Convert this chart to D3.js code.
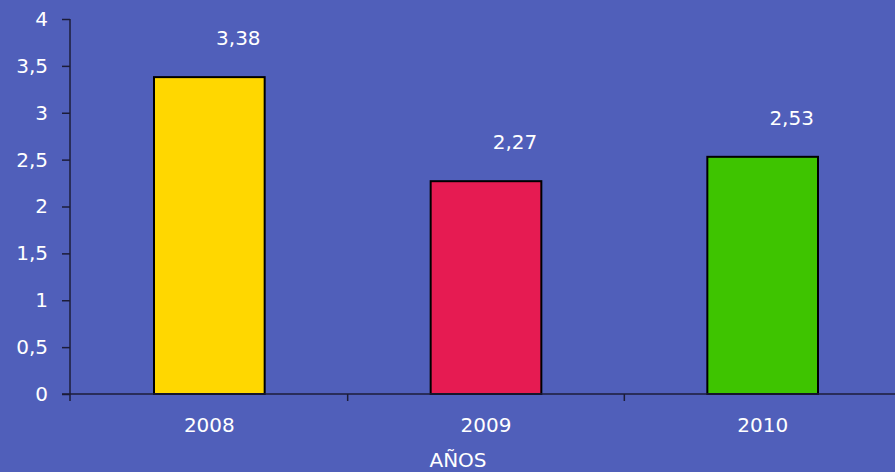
<!DOCTYPE html>
<html>
<head>
<meta charset="utf-8">
<script src="https://cdn.jsdelivr.net/npm/d3@7"></script>
<style>
  html, body { margin: 0; padding: 0; background: #505fba; }
  svg text { font-family: "DejaVu Sans", "Noto Sans", sans-serif; fill: #fff; }
</style>
</head>
<body>
<svg id="chart"></svg>
<script>
// ------ données ------
const years = ["2008", "2009", "2010"]
const values = [3.38, 2.27, 2.53]
const valueLabels = ["3,38", "2,27", "2,53"]
const barColors = ["#ffd700", "#e61b52", "#3ec400"]
const yTicks = [0, 0.5, 1, 1.5, 2, 2.5, 3, 3.5, 4]
const xTitle = "AÑOS"

// taille du cadre
const width = 895, height = 472
const mLeft = 71, mRight = 901, mTop = 19, mBottom = 394

const svg = d3.select("#chart")
    .attr("width", width)
    .attr("height", height)

svg.append("rect").attr("width", width).attr("height", height).attr("fill", "#505fba")

// échelles
const x = d3.scaleBand().domain(years).range([mLeft, mRight]).paddingInner(0.6).paddingOuter(0.3)
const xb = d3.scaleBand().domain(years).range([mLeft, mRight])
const y = d3.scaleLinear().domain([0, 4]).range([mBottom, mTop])

const fmt = d => String(d).replace(".", ",")

// axe Y
const yAxis = svg.append("g")
    .attr("transform", `translate(${mLeft - 1},0)`)
    .call(d3.axisLeft(y).tickValues(yTicks).tickFormat(fmt).tickSize(8).tickSizeOuter(0).tickPadding(14))
yAxis.select(".domain").attr("stroke", "#1c1c38").attr("stroke-width", 1.5)
    .attr("d", `M0,${mTop}V${mBottom + 7}`)
yAxis.selectAll(".tick line").attr("stroke", "#1c1c38").attr("stroke-width", 1.5)
yAxis.selectAll(".tick text").attr("font-size", 20).style("fill", "#fff")
    .style("font-family", "DejaVu Sans")

// barres
svg.selectAll("rect.bar")
    .data(values)
    .enter()
    .append("rect")
    .attr("class", "bar")
    .attr("x", (d, i) => x(years[i]))
    .attr("y", d => y(d))
    .attr("width", x.bandwidth())
    .attr("height", d => y(0) - y(d))
    .attr("fill", (d, i) => barColors[i])
    .attr("stroke", "#000")
    .attr("stroke-width", 2)

// axe X
const xAxis = svg.append("g")
    .attr("transform", `translate(0,${mBottom})`)
svg.append("line")
    .attr("x1", mLeft - 9).attr("x2", width)
    .attr("y1", mBottom).attr("y2", mBottom)
    .attr("stroke", "#1c1c38").attr("stroke-width", 1.5)
xAxis.selectAll("line.tick")
    .data(years.slice(1))
    .enter()
    .append("line")
    .attr("x1", d => xb(d)).attr("x2", d => xb(d))
    .attr("y1", 0).attr("y2", 7)
    .attr("stroke", "#1c1c38").attr("stroke-width", 1.5)
xAxis.selectAll("text.year")
    .data(years)
    .enter()
    .append("text")
    .attr("x", d => x(d) + x.bandwidth() / 2)
    .attr("y", 38)
    .attr("text-anchor", "middle")
    .attr("font-size", 20)
    .text(d => d)

// étiquettes de valeurs
svg.selectAll("text.val")
    .data(values)
    .enter()
    .append("text")
    .attr("x", (d, i) => x(years[i]) + x.bandwidth() / 2 + 29)
    .attr("y", d => y(d) - 32)
    .attr("text-anchor", "middle")
    .attr("font-size", 20)
    .text((d, i) => valueLabels[i])

// titre axe
svg.append("text")
    .attr("x", 458)
    .attr("y", 467)
    .attr("text-anchor", "middle")
    .attr("font-size", 20)
    .text(xTitle)
</script>
</body>
</html>
